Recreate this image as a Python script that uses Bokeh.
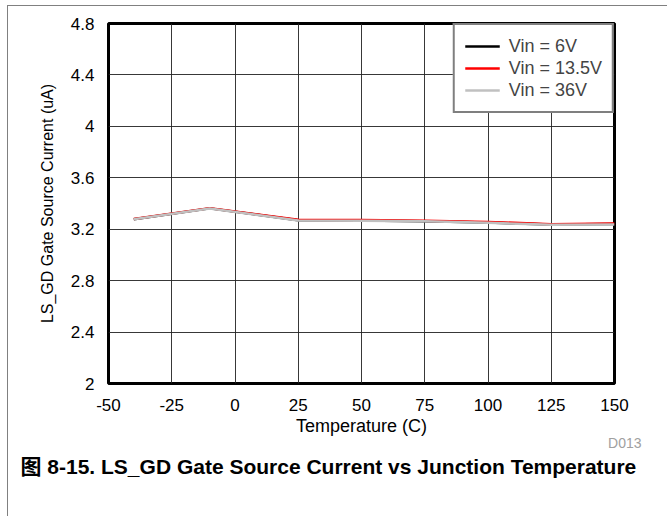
from bokeh.plotting import figure
from bokeh.models import FixedTicker, CustomJSTickFormatter, Legend, LegendItem, Title
from bokeh.layouts import column
from bokeh.embed import file_html
from bokeh.resources import INLINE

temps = [-40, -10, 25, 50, 75, 100, 125, 150]
vin_6 = [3.277, 3.362, 3.270, 3.267, 3.262, 3.252, 3.237, 3.240]
vin_13_5 = [3.279, 3.364, 3.273, 3.271, 3.266, 3.257, 3.239, 3.245]
vin_36 = [3.277, 3.361, 3.268, 3.266, 3.262, 3.250, 3.235, 3.236]

x_ticks = [-50, -25, 0, 25, 50, 75, 100, 125, 150]
y_ticks = [2, 2.4, 2.8, 3.2, 3.6, 4, 4.4, 4.8]

FONT = "Liberation Sans"
H = 510

p = figure(width=659, height=H, output_backend="svg", toolbar_location=None,
           x_range=(-50, 150), y_range=(2, 4.8),
           min_border_left=100, min_border_right=53, min_border_top=17, min_border_bottom=133)
p.background_fill_color = "white"
p.border_fill_color = "white"
p.outline_line_color = "black"
p.outline_line_width = 3

r6 = p.line(temps, vin_6, line_color="black", line_width=2.5)
r13 = p.line(temps, vin_13_5, line_color="#ff0000", line_width=2.5)
r36 = p.line(temps, vin_36, line_color="#c0c0c0", line_width=2.5)

for ax in (p.xaxis[0], p.yaxis[0]):
    ax.axis_line_color = None
    ax.major_tick_line_color = None
    ax.minor_tick_line_color = None
    ax.major_label_text_font = FONT
    ax.major_label_text_font_size = "17px"
    ax.major_label_text_color = "black"
    ax.axis_label_text_font = FONT
    ax.axis_label_text_font_style = "normal"
    ax.axis_label_text_color = "black"
p.xaxis.axis_label_text_font_size = "18px"
p.yaxis.axis_label_text_font_size = "16px"

p.xaxis.ticker = FixedTicker(ticks=x_ticks)
p.yaxis.ticker = FixedTicker(ticks=y_ticks)
p.xaxis.formatter = CustomJSTickFormatter(code="return String(Math.round(tick));")
p.yaxis.formatter = CustomJSTickFormatter(code="return String(Math.round(tick*10)/10);")
p.xaxis.axis_label = "Temperature (C)"
p.yaxis.axis_label = "LS_GD Gate Source Current (uA)"
p.xaxis.major_label_standoff = 9
p.yaxis.major_label_standoff = 8
p.xaxis.axis_label_standoff = 2
p.yaxis.axis_label_standoff = 12

p.grid.grid_line_color = "#222222"
p.grid.grid_line_width = 1
p.grid.grid_line_alpha = 0.9

legend = Legend(items=[LegendItem(label="Vin = 6V", renderers=[r6]),
                       LegendItem(label="Vin = 13.5V", renderers=[r13]),
                       LegendItem(label="Vin = 36V", renderers=[r36])],
                location="top_right", margin=0, padding=10, spacing=0,
                label_text_font=FONT, label_text_font_size="18px",
                label_height=22, glyph_height=22, glyph_width=35, label_standoff=9,
                border_line_color="black", border_line_width=2,
                background_fill_color="white", background_fill_alpha=1.0)
p.add_layout(legend)

code = Title(text="D013", align="right", offset=-27, standoff=-24,
             text_font=FONT, text_font_size="14px", text_color="#a0a0a0",
             text_font_style="normal")
p.add_layout(code, "below")

caption = Title(text="图 8-15. LS_GD Gate Source Current vs Junction Temperature",
                align="left", offset=-88, standoff=28,
                text_font=FONT + ", Noto Sans CJK SC", text_font_size="21px",
                text_font_style="bold", text_color="black")
p.add_layout(caption, "below")

page = column(p, styles={"border-top": "1px solid #808080", "border-left": "1px solid #808080",
                         "margin-top": "5px", "margin-left": "7px"})

open("out.html", "w").write(file_html(page, INLINE))
